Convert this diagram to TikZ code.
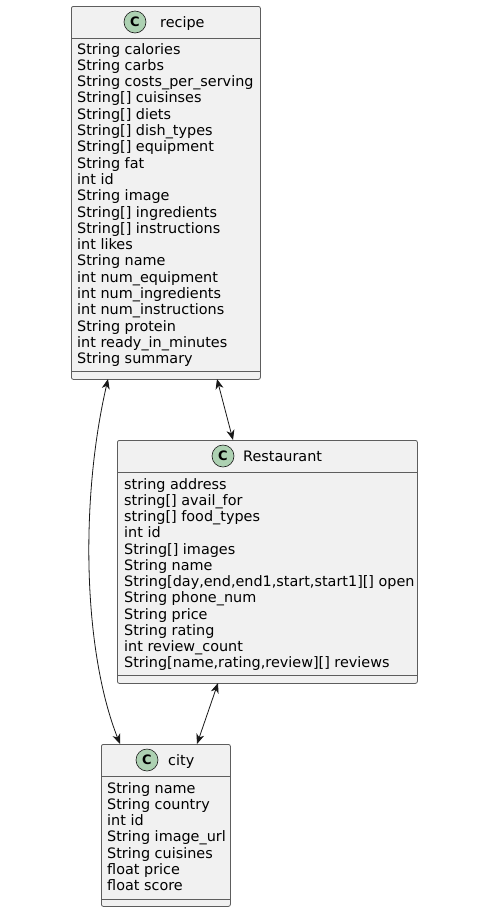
\documentclass[tikz,border=0pt]{standalone}
\usepackage{fontspec}
\setmainfont{DejaVu Sans}
\usetikzlibrary{arrows.meta,calc}
\definecolor{boxfill}{HTML}{F1F1F1}
\definecolor{boxline}{HTML}{181818}
\definecolor{circfill}{HTML}{ADD1B2}
\begin{document}
\begin{tikzpicture}[x=1pt,y=-1pt,
  classbox/.style={draw=boxline!70,fill=boxfill,line width=0.8pt,rounded corners=2pt,inner sep=0pt,anchor=north west},
  sepline/.style={draw=boxline!70,line width=0.8pt},
  cicon/.style={circle,draw=boxline,fill=circfill,line width=0.6pt,minimum size=22pt,inner sep=0pt,font=\fontsize{13}{13}\selectfont\bfseries},
  title/.style={anchor=base west,inner sep=0pt,font=\fontsize{14.4}{16}\selectfont},
  attr/.style={anchor=base west,inner sep=0pt,font=\fontsize{14.4}{16}\selectfont},
  assoc/.style={draw=boxline,line width=0.8pt,{Stealth[length=10pt,width=8pt,inset=3pt]}-{Stealth[length=10pt,width=8pt,inset=3pt]}}
]
\useasboundingbox (0,0) rectangle (499,914);
\fill[white] (0,0) rectangle (499,914);

% recipe
\node[classbox,minimum width=189pt,minimum height=373pt] (recipe) at (71,6) {};
\draw[sepline] (71,38) -- (260,38);
\draw[sepline] (71,371) -- (260,371);
\node[cicon] (recipeC) at (135,22) {C};
\node[title] (recipeT) at (160,27) {recipe};
\foreach \t [count=\i from 0] in {String calories,String carbs,String costs\_per\_serving,String[] cuisinses,String[] diets,String[] dish\_types,String[] equipment,String fat,int id,String image,String[] ingredients,String[] instructions,int likes,String name,int num\_equipment,int num\_ingredients,int num\_instructions,String protein,int ready\_in\_minutes,String summary}
  \node[attr] (ra\i) at (77,54+16.3*\i) {\t};

% Restaurant
\node[classbox,minimum width=300pt,minimum height=243pt] (rest) at (117,440) {};
\draw[sepline] (117,472) -- (417,472);
\draw[sepline] (117,675) -- (417,675);
\node[cicon] (restC) at (223,456) {C};
\node[title] (restT) at (243,461) {Restaurant};
\foreach \t [count=\i from 0] in {string address,string[] avail\_for,string[] food\_types,int id,String[] images,String name,{String[day,end,end1,start,start1][] open},String phone\_num,String price,String rating,int review\_count,{String[name,rating,review][] reviews}}
  \node[attr] (sa\i) at (124,489+16.27*\i) {\t};

% city
\node[classbox,minimum width=129pt,minimum height=162pt] (city) at (101,744) {};
\draw[sepline] (101,776) -- (230,776);
\draw[sepline] (101,899) -- (230,899);
\node[cicon] (cityC) at (147,760) {C};
\node[title] (cityT) at (168,765) {city};
\foreach \t [count=\i from 0] in {String name,String country,int id,String image\_url,String cuisines,float price,float score}
  \node[attr] (ca\i) at (107,793+16.3*\i) {\t};

% associations
\coordinate (p1) at (217,379);
\coordinate (p2) at (233,440);
\draw[assoc] (p1) -- (p2);
\coordinate (q1) at (108,379);
\coordinate (q2) at (120,744);
\draw[assoc] (q1) .. controls (80,500) and (83,650) .. (q2);
\coordinate (s1) at (218,683);
\coordinate (s2) at (197,744);
\draw[assoc] (s1) -- (s2);
\end{tikzpicture}
\end{document}
